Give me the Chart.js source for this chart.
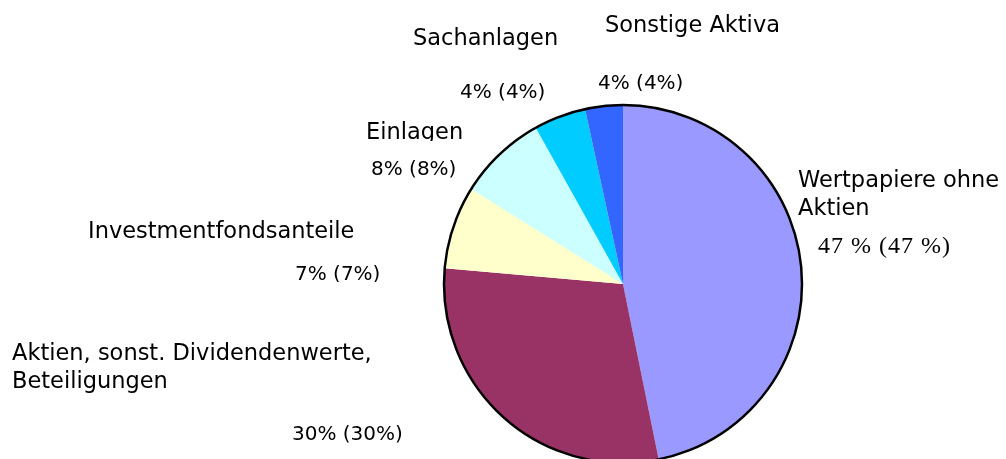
<!DOCTYPE html>
<html>
<head>
<meta charset="utf-8">
<script src="https://cdn.jsdelivr.net/npm/chart.js@4/dist/chart.umd.min.js"></script>
<style>
  html, body { margin: 0; padding: 0; background: #fff; overflow: hidden; }
  #wrap { position: absolute; left: 0; top: 0; width: 1006px; height: 480px; }
</style>
</head>
<body>
<div id="wrap"><canvas id="pieChart"></canvas></div>
<script>
// categories, clockwise from 12 o'clock
const categories = [
  'Wertpapiere ohne Aktien',
  'Aktien, sonst. Dividendenwerte, Beteiligungen',
  'Investmentfondsanteile',
  'Einlagen',
  'Sachanlagen',
  'Sonstige Aktiva'
];
// shares in percent
const shares = [46.8, 29.6, 7.5, 8.0, 4.7, 3.4];
// printed value labels
const valueLabels = ['47 % (47 %)', '30% (30%)', '7% (7%)', '8% (8%)', '4% (4%)', '4% (4%)'];
const sliceColors = ['#9999ff', '#993366', '#ffffcc', '#ccffff', '#00ccff', '#3366ff'];

// where the label text sits (left x, baseline y) -- text layout only
const nameLayout = [
  { x: 798, y: 187, lines: ['Wertpapiere ohne', 'Aktien'] },
  { x: 12, y: 360, lines: ['Aktien, sonst. Dividendenwerte,', 'Beteiligungen'] },
  { x: 88, y: 238, lines: ['Investmentfondsanteile'] },
  { x: 366, y: 139, lines: ['Einlagen'], clip: 141 },
  { x: 413, y: 45, lines: ['Sachanlagen'] },
  { x: 605, y: 32, lines: ['Sonstige Aktiva'] }
];
const valueLayout = [
  { x: 818, y: 253, serif: true },
  { x: 292, y: 440 },
  { x: 295, y: 280, clip: 282 },
  { x: 371, y: 175 },
  { x: 460, y: 98 },
  { x: 598, y: 89, clip: 91 }
];

function withClip(ctx, bottom, fn) {
  ctx.save();
  if (bottom) {
    ctx.beginPath();
    ctx.rect(0, 0, ctx.canvas.width, bottom);
    ctx.clip();
  }
  fn();
  ctx.restore();
}

const outlinePlugin = {
  id: 'outline',
  afterDatasetsDraw(chart) {
    const arc = chart.getDatasetMeta(0).data[0];
    if (!arc) return;
    const ctx = chart.ctx;
    ctx.save();
    ctx.beginPath();
    ctx.arc(arc.x, arc.y, arc.outerRadius, 0, Math.PI * 2);
    ctx.lineWidth = 2.5;
    ctx.strokeStyle = '#000';
    ctx.stroke();
    ctx.restore();
  }
};

const labelPlugin = {
  id: 'sliceLabels',
  afterDraw(chart) {
    const ctx = chart.ctx;
    ctx.save();
    ctx.fillStyle = '#000';
    ctx.textBaseline = 'alphabetic';
    ctx.textAlign = 'left';
    nameLayout.forEach(n => {
      withClip(ctx, n.clip, () => {
        ctx.font = '22.5px "DejaVu Sans"';
        n.lines.forEach((line, i) => ctx.fillText(line, n.x, n.y + i * 28));
      });
    });
    valueLayout.forEach((v, i) => {
      withClip(ctx, v.clip, () => {
        if (v.serif) {
          ctx.font = '24px "Liberation Serif"';
          ctx.letterSpacing = '1px';
        } else {
          ctx.font = '20px "DejaVu Sans"';
          ctx.letterSpacing = '0px';
        }
        ctx.fillText(valueLabels[i], v.x, v.y);
      });
    });
    ctx.restore();
  }
};

new Chart(document.getElementById('pieChart'), {
  type: 'pie',
  data: {
    labels: categories,
    datasets: [{
      data: shares,
      backgroundColor: sliceColors,
      borderWidth: 0,
      hoverOffset: 0
    }]
  },
  options: {
    responsive: true,
    maintainAspectRatio: false,
    animation: false,
    layout: { padding: { left: 444, right: 204, top: 105, bottom: 17 } },
    plugins: {
      legend: { display: false },
      tooltip: { enabled: false }
    }
  },
  plugins: [outlinePlugin, labelPlugin]
});
</script>
</body>
</html>
